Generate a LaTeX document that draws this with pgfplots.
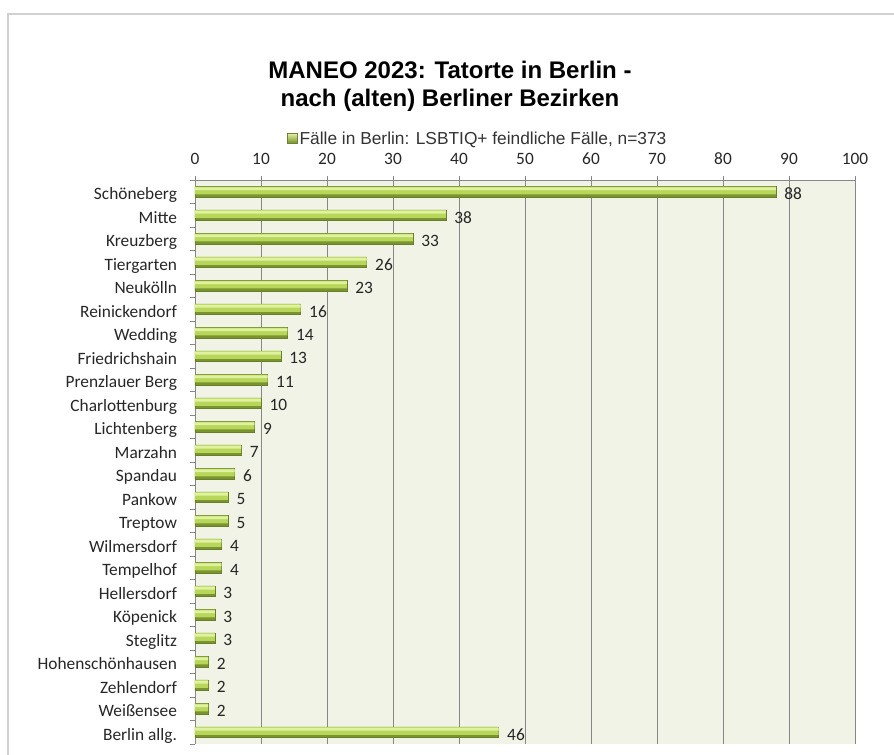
\documentclass[border=0pt]{standalone}
\usepackage{fontspec}
\setmainfont{Carlito}
\newfontfamily\arialf{Liberation Sans}
\usepackage{pgfplots}
\pgfplotsset{compat=1.18}

\definecolor{bgcol}{RGB}{240,243,229}
\definecolor{gtop}{RGB}{224,241,162}
\definecolor{gmid}{RGB}{184,215,90}
\definecolor{gbot}{RGB}{122,148,48}
\definecolor{gridc}{RGB}{135,135,135}
\definecolor{framec}{RGB}{208,208,208}

\pgfplotstableread{
idx val
0 88
1 38
2 33
3 26
4 23
5 16
6 14
7 13
8 11
9 10
10 9
11 7
12 6
13 5
14 5
15 4
16 4
17 3
18 3
19 3
20 2
21 2
22 2
23 46
}\tatorte

\begin{document}
\begin{tikzpicture}
\path[use as bounding box] (0,0) rectangle (670.5pt,-566.25pt);
\draw[framec, line width=1.5pt] (6pt,-580pt) -- (6pt,-10.5pt) -- (690pt,-10.5pt);
\node[font=\arialf\bfseries\fontsize{18}{21}\selectfont, align=center]
  at (337.5pt,-64.5pt) {MANEO 2023: Tatorte in Berlin -\\nach (alten) Berliner Bezirken};

\begin{axis}[
    at={(146.25pt,-135pt)}, anchor=north west,
    scale only axis,
    width=495pt, height=423pt,
    xbar,
    xmin=0, xmax=100,
    ymin=-0.5, ymax=23.5,
    y dir=reverse,
    axis x line*=top, axis y line*=left,
    axis line style={-, gridc},
    axis background/.style={fill=bgcol},
    xmajorgrids, grid style={gridc, line width=0.6pt},
    xtick={0,10,...,100},
    xticklabel pos=top,
    x tick style={gridc, line width=0.6pt},
    tick align=center, major tick length=6pt,
    ytick={0,...,23},
    y tick style={draw=none},
    yticklabels={Schöneberg, Mitte, Kreuzberg, Tiergarten, Neukölln, Reinickendorf,
      Wedding, Friedrichshain, Prenzlauer Berg, Charlottenburg, Lichtenberg, Marzahn,
      Spandau, Pankow, Treptow, Wilmersdorf, Tempelhof, Hellersdorf, Köpenick,
      Steglitz, Hohenschönhausen, Zehlendorf, Weißensee, Berlin allg.},
    extra y ticks={-0.5,0.5,...,23.5},
    extra y tick labels={},
    extra y tick style={y tick style={draw=gridc, line width=0.6pt}, tick align=outside, major tick length=4pt},
    ticklabel style={font=\fontsize{13}{15}\selectfont, text=black!85},
    yticklabel style={xshift=-7pt, yshift=-2.5pt, text height=9pt, text depth=2pt},
    xticklabel style={yshift=5pt},
    /pgf/number format/assume math mode=true,
    legend style={at={(0.429,1.073)}, anchor=center, draw=none, fill=none,
      font=\arialf\fontsize{13}{15}\selectfont, text=black!80},
    legend image code/.code={\shade[top color=gtop, bottom color=gbot, draw=gmid!60!black, line width=0.3pt] (0pt,-3pt) rectangle (7pt,4pt);},
]
% base of each bar: the dark lower edge
\addplot[xbar, bar width=8pt, bar shift=0pt, fill=gbot, draw=gbot!85!black, line width=0.3pt,
    nodes near coords,
    nodes near coords style={font=\fontsize{13}{15}\selectfont, text=black!85, anchor=west, xshift=3pt, yshift=-1.5pt}]
  table[x=val, y=idx] {\tatorte};
\addlegendentry{Fälle in Berlin: LSBTIQ+ feindliche Fälle, n=373}
% bright middle band
\addplot[xbar, forget plot, bar width=5.8pt, bar shift=1pt, fill=gmid, draw=none]
  table[x=val, y=idx] {\tatorte};
% light highlight at the top
\addplot[xbar, forget plot, bar width=2pt, bar shift=2.3pt, fill=gtop, draw=none]
  table[x=val, y=idx] {\tatorte};
\end{axis}
\end{tikzpicture}
\end{document}
